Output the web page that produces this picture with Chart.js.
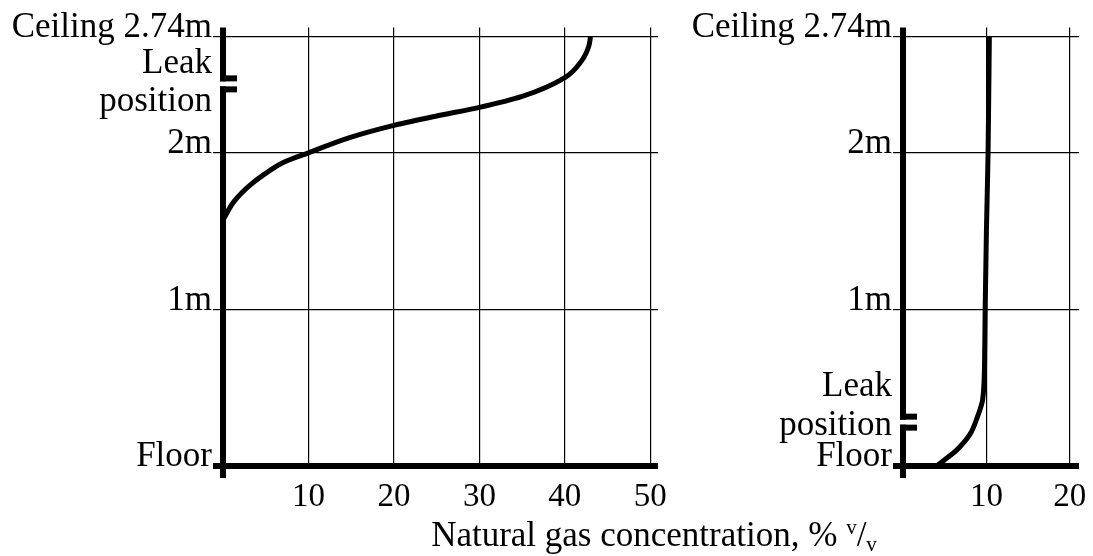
<!DOCTYPE html>
<html>
<head>
<meta charset="utf-8">
<script src="https://cdn.jsdelivr.net/npm/chart.js@4.4.1/dist/chart.umd.min.js"></script>
<style>
  html, body { margin: 0; padding: 0; background: #fff; }
  body { width: 1093px; height: 556px; position: relative; overflow: hidden; }
  #c1 { position: absolute; left: 0; top: 0; }
  #c2 { position: absolute; left: 680px; top: 0; }
  #xtitle {
    position: absolute; left: 654px; top: 508px; transform: translateX(-50%);
    font-family: "Liberation Serif", serif; font-size: 35px; color: #000; white-space: nowrap;
    line-height: 38px;
  }
  #xtitle sup, #xtitle sub { font-size: 0.6em; }
  #xtitle sup { vertical-align: 0.55em; }
  #xtitle sub { vertical-align: -0.25em; }
</style>
</head>
<body>
<canvas id="c1" width="680" height="556"></canvas>
<canvas id="c2" width="413" height="556"></canvas>
<div id="xtitle">Natural gas concentration, % <sup>v</sup>/<sub>v</sub></div>
<script>
// ---- data ----
const heightTickValues = [0, 1, 2, 2.74];
const heightTickLabels = ['Floor', '1m', '2m', 'Ceiling 2.74m'];
const leakLabel = ['Leak', 'position'];

const leftConcTicks = [0, 10, 20, 30, 40, 50];
const rightConcTicks = [0, 10, 20];

// leak position (m) and where the "Leak position" text sits (m)
const leftLeakHeight = 2.44;
const leftLeakLabelHeight = 2.39;
const rightLeakHeight = 0.28;
const rightLeakLabelHeight = 0.325;

// Left panel: leak near ceiling (concentration %, height m)
const leftConc   = [0, 1.3, 3.3, 5.3, 7.1, 10, 15, 20, 25, 30, 35, 40, 42, 42.8, 43];
const leftHeight = [1.57, 1.69, 1.80, 1.88, 1.94, 2.00, 2.10, 2.175, 2.235, 2.29, 2.36, 2.48, 2.59, 2.68, 2.74];

// Right panel: leak near floor
const rightConc   = [4.0, 5.0, 6.4, 8.0, 8.9, 9.5, 9.7, 9.8, 9.85, 10.0, 10.2, 10.35];
const rightHeight = [0, 0.04, 0.10, 0.20, 0.31, 0.41, 0.52, 0.75, 1.0, 1.5, 2.0, 2.74];

const FONT = '"Liberation Serif", serif';

const leakPlugin = {
  id: 'leakGap',
  afterDraw(chart, args, opts) {
    const xs = chart.scales.x, ys = chart.scales.y;
    const x = xs.getPixelForValue(0);
    const y = ys.getPixelForValue(opts.height);
    const ctx = chart.ctx;
    ctx.save();
    ctx.fillStyle = '#fff';
    ctx.fillRect(x - 5, y - 2.5, 10, 5);
    ctx.fillStyle = '#000';
    ctx.fillRect(x - 3, y - 8.5, 17, 6);
    ctx.fillRect(x - 3, y + 2.5, 17, 6);
    ctx.restore();
  }
};

function makeChart(id, conc, height, concTicks, xMax, leakH, leakLabelH, padRight) {
  const yTicks = heightTickValues.concat([leakLabelH]).sort((a, b) => a - b);
  const data = conc.map((c, i) => ({ x: c, y: height[i] }));
  return new Chart(document.getElementById(id), {
    type: 'line',
    data: {
      datasets: [{
        data: data,
        borderColor: '#000',
        borderWidth: 5,
        pointRadius: 0,
        cubicInterpolationMode: 'monotone',
        fill: false
      }]
    },
    plugins: [leakPlugin],
    options: {
      responsive: false,
      animation: false,
      indexAxis: 'y',
      devicePixelRatio: 1,
      layout: { padding: { top: 27.5, right: padRight, left: 0, bottom: 0 } },
      plugins: {
        legend: { display: false },
        tooltip: { enabled: false },
        leakGap: { height: leakH }
      },
      scales: {
        x: {
          type: 'linear',
          min: 0, max: xMax,
          afterBuildTicks(scale) { scale.ticks = concTicks.map(v => ({ value: v })); },
          afterFit(scale) { scale.height = 90; scale.paddingLeft = 0; scale.paddingRight = 0; },
          border: { display: false },
          grid: {
            color: '#000',
            lineWidth: (ctx) => (ctx.tick && ctx.tick.value === 0 ? 6 : 1.2),
            tickColor: (ctx) => (ctx.tick && ctx.tick.value === 0 ? '#000' : 'rgba(0,0,0,0)'),
            tickLength: 12,
            drawOnChartArea: true
          },
          ticks: {
            autoSkip: false,
            maxRotation: 0,
            padding: 0,
            color: '#000',
            font: { family: FONT, size: 33 },
            callback: (v) => (v === 0 ? '' : String(v))
          }
        },
        y: {
          type: 'linear',
          min: 0, max: 2.80,
          afterBuildTicks(scale) { scale.ticks = yTicks.map(v => ({ value: v })); },
          afterFit(scale) { scale.width = 223; scale.paddingTop = 0; scale.paddingBottom = 0; },
          border: { display: false },
          grid: {
            color: (ctx) => (ctx.tick && ctx.tick.value === leakLabelH ? 'rgba(0,0,0,0)' : '#000'),
            lineWidth: (ctx) => (ctx.tick && ctx.tick.value === 0 ? 6 : 1.2),
            tickLength: 10
          },
          ticks: {
            autoSkip: false,
            padding: 1,
            labelOffset: -9,
            color: '#000',
            font: { family: FONT, size: 35, lineHeight: 1.1 },
            callback: (v) => {
              if (v === leakLabelH) return leakLabel;
              const i = heightTickValues.indexOf(v);
              return i >= 0 ? heightTickLabels[i] : '';
            }
          }
        }
      }
    }
  });
}

makeChart('c1', leftConc, leftHeight, leftConcTicks, 50.9, leftLeakHeight, leftLeakLabelHeight, 22);
makeChart('c2', rightConc, rightHeight, rightConcTicks, 21.1, rightLeakHeight, rightLeakLabelHeight, 14);
</script>
</body>
</html>
